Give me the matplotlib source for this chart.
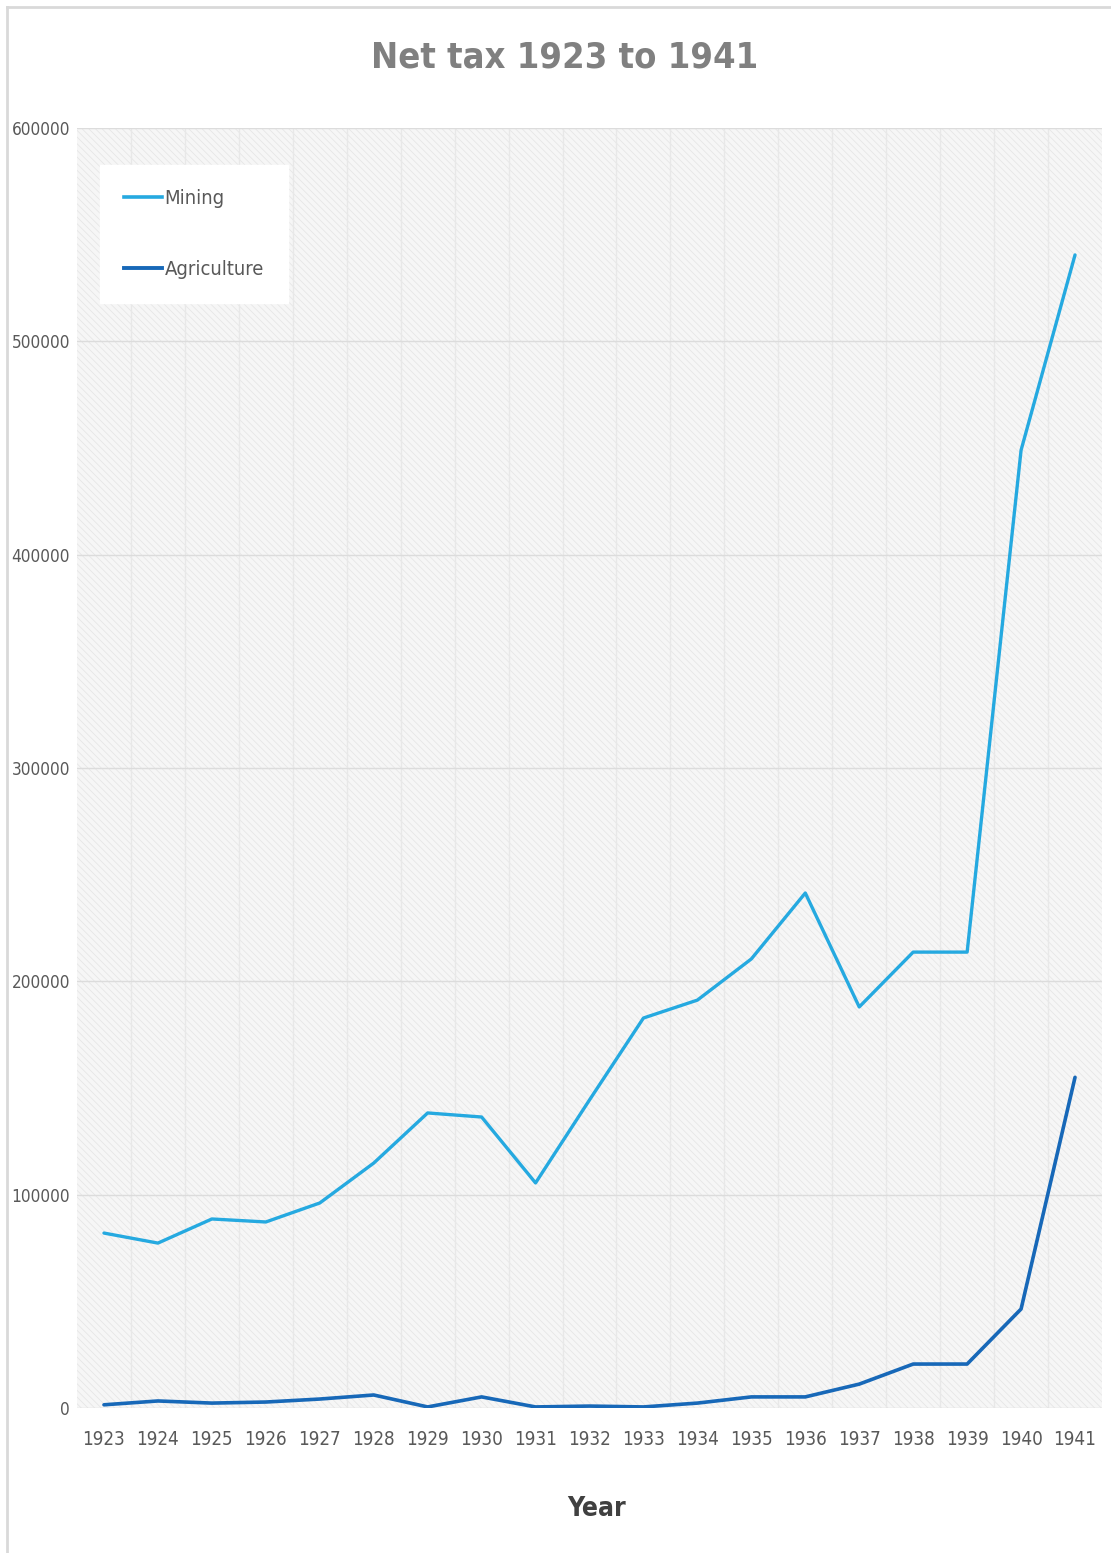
import matplotlib
matplotlib.use('Agg')
import matplotlib.pyplot as plt
from matplotlib.patches import Rectangle
from matplotlib.lines import Line2D

# data
years = [1923, 1924, 1925, 1926, 1927, 1928, 1929, 1930, 1931, 1932,
         1933, 1934, 1935, 1936, 1937, 1938, 1939, 1940, 1941]
mining = [82000, 77300, 88600, 87200, 96100, 114800, 138300, 136400, 105500, 144400,
          182800, 191200, 210500, 241400, 188000, 213700, 213700, 449000, 540500]
agriculture = [1500, 3300, 2300, 2800, 4200, 6100, 500, 5200, 500, 900,
               500, 2300, 5200, 5200, 11200, 20600, 20600, 46400, 155000]
y_ticks = [0, 100000, 200000, 300000, 400000, 500000, 600000]

plt.rcParams['font.family'] = ['DejaVu Sans']
plt.rcParams['font.stretch'] = 'condensed'
plt.rcParams['hatch.linewidth'] = 0.5

fig = plt.figure(figsize=(11.11, 15.53), dpi=100)
ax = fig.add_axes([77/1111, 145/1553, 1025/1111, 1280/1553])

# hatched plot background
ax.set_facecolor('#f6f6f6')
bg = Rectangle((0, 0), 1, 1, transform=ax.transAxes, facecolor='#f6f6f6',
               edgecolor='#e4e4e4', hatch='\\\\\\\\\\', linewidth=0, zorder=0)
ax.add_patch(bg)

x = list(range(len(years)))
ax.plot(x, mining, color='#25A9E0', lw=2.4, label='Mining', zorder=3, solid_capstyle='round')
ax.plot(x, agriculture, color='#1768B8', lw=2.6, label='Agriculture', zorder=3, solid_capstyle='round')

ax.set_xlim(-0.5, len(years) - 0.5)
ax.set_ylim(0, 600000)
ax.set_xticks(x)
ax.set_xticklabels([str(y) for y in years])
ax.set_xticks([i + 0.5 for i in x[:-1]], minor=True)
ax.set_yticks(y_ticks)
ax.set_yticklabels([str(v) for v in y_ticks])
ax.tick_params(axis='both', which='both', length=0, labelcolor='#595959')
ax.tick_params(axis='x', pad=16, labelsize=13.5)
ax.tick_params(axis='y', pad=5, labelsize=12.3)
ax.grid(axis='y', which='major', color='#dcdcdc', lw=1, zorder=1)
ax.grid(axis='x', which='minor', color='#e8e8e8', lw=1, zorder=1)
ax.set_axisbelow(True)
for s in ax.spines.values():
    s.set_visible(False)

ax.set_xlabel('Year', fontsize=19, fontweight='bold', color='#404040')
ax.xaxis.set_label_coords((597 - 77) / 1025, -88 / 1280)

handles = [Line2D([], [], color='#25A9E0', lw=2.6), Line2D([], [], color='#1768B8', lw=2.8)]
leg = ax.legend(handles, ['Mining', 'Agriculture'], loc='upper left',
                bbox_to_anchor=(0.0225, 0.971), frameon=True, fancybox=False,
                facecolor='white', edgecolor='white', framealpha=1, fontsize=14.5,
                labelspacing=2.55, handlelength=1.9, handletextpad=0.1,
                borderpad=1.2, borderaxespad=0)
for t in leg.get_texts():
    t.set_color('#595959')

fig.text(565/1111, 1 - 57/1553, 'Net tax 1923 to 1941', ha='center', va='center',
         fontsize=26, fontweight='bold', color='#808080')

# thin frame lines at top and left of the image
fig.add_artist(Line2D([7/1111, 1], [1 - 7/1553, 1 - 7/1553], color='#d9d9d9', lw=2,
                      transform=fig.transFigure))
fig.add_artist(Line2D([7/1111, 7/1111], [0, 1 - 7/1553], color='#d9d9d9', lw=2,
                      transform=fig.transFigure))

fig.savefig('out.png', dpi=100, facecolor='white')
